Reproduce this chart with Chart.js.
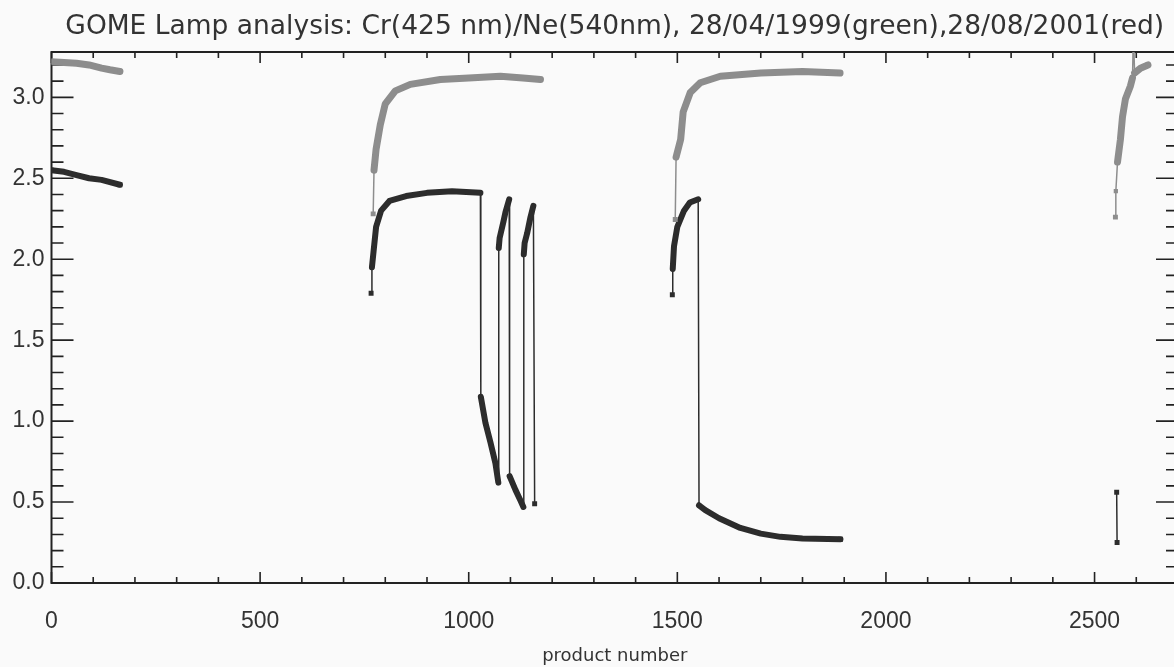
<!DOCTYPE html>
<html>
<head>
<meta charset="utf-8">
<script src="https://cdn.jsdelivr.net/npm/chart.js@4.4.1/dist/chart.umd.min.js"></script>
<style>
    html, body { margin: 0; padding: 0; background: #fafafa; overflow: hidden; }
    #moldura { width: 1182px; height: 667px; }
</style>
</head>
<body>
<div id="moldura"><canvas id="graficoLampada" width="1182" height="667"></canvas></div>
<script>
const titulo = 'GOME Lamp analysis: Cr(425 nm)/Ne(540nm), 28/04/1999(green),28/08/2001(red)';

// 28/04/1999 (curva cinza clara) - null separa os trechos
const produtoVerde = [0, 30, 60, 90, 120, 140, 164,
    400,
    771, 773, 778, 788, 800, 824, 860, 932, 1000, 1076, 1130, 1172,
    1300,
    1495, 1497, 1508, 1514, 1531, 1555, 1603, 1700, 1800, 1890,
    2200,
    2550, 2551, 2555, 2562, 2567, 2574, 2586, 2591, 2593, 2596, 2610, 2628];
const razaoVerde = [3.22, 3.215, 3.21, 3.20, 3.18, 3.17, 3.16,
    null,
    2.28, 2.55, 2.68, 2.83, 2.96, 3.04, 3.08, 3.11, 3.12, 3.13, 3.12, 3.11,
    null,
    2.245, 2.63, 2.74, 2.91, 3.03, 3.09, 3.13, 3.15, 3.16, 3.15,
    null,
    2.26, 2.42, 2.60, 2.74, 2.88, 2.99, 3.07, 3.12, 3.40, 3.15, 3.18, 3.20];

// 28/08/2001 (curva escura)
const produtoVermelho = [0, 30, 60, 90, 120, 164,
    400,
    766, 768, 772, 778, 790, 810, 850, 900, 960, 1028,
    1029, 1040, 1052, 1064, 1071,
    1072, 1074, 1083, 1088, 1097,
    1098, 1112, 1124, 1131,
    1132, 1134, 1140, 1148, 1155,
    1158,
    1300,
    1488, 1489, 1492, 1500, 1516, 1530, 1550,
    1552, 1567, 1600, 1651, 1700, 1747, 1800, 1891,
    2200,
    2553, 2554];
const razaoVermelho = [2.55, 2.54, 2.52, 2.50, 2.49, 2.46,
    null,
    1.79, 1.95, 2.05, 2.20, 2.30, 2.36, 2.39, 2.41, 2.42, 2.41,
    1.15, 0.99, 0.87, 0.74, 0.62,
    2.07, 2.13, 2.23, 2.29, 2.37,
    0.66, 0.575, 0.51, 0.47,
    2.03, 2.10, 2.16, 2.26, 2.33,
    0.49,
    null,
    1.78, 1.94, 2.08, 2.20, 2.30, 2.35, 2.37,
    0.48, 0.45, 0.40, 0.34, 0.305, 0.285, 0.275, 0.27,
    null,
    0.56, 0.25];

const ticksX = [0, 500, 1000, 1500, 2000, 2500];
const ticksY = [0.0, 0.5, 1.0, 1.5, 2.0, 2.5, 3.0];

const corVerde = '#8d8d8d';
const corVermelho = '#2c2c2c';
const corTexto = '#333333';

function montaPontos(xs, ys) {
    return xs.map((x, i) => ({ x: x, y: ys[i] }));
}

// marcador quadrado no inicio/fim de cada trecho e depois de saltos
function raioMarcador(c) {
    const d = c.dataset.data;
    const i = c.dataIndex;
    if (d[i].y === null) return 0;
    const ant = i > 0 ? d[i - 1].y : null;
    const prox = i < d.length - 1 ? d[i + 1].y : null;
    if (ant === null || prox === null) return 3.5;
    if (Math.abs(d[i].y - ant) > 0.15) return 3;
    return 0;
}

// linha fina so nos saltos quase verticais, grossa nos trechos densos
function larguraTrecho(grossa) {
    return c => {
        const dy = Math.abs(c.p1.y - c.p0.y);
        const dx = Math.abs(c.p1.x - c.p0.x);
        return (dy > 25 && dx < 2) ? 1.5 : grossa;
    };
}

// caixa e marcas de escala no estilo IDL (para dentro)
const eixosIDL = {
    id: 'eixosIDL',
    beforeDraw(chart) {
        const ctx = chart.ctx;
        ctx.save();
        ctx.fillStyle = '#fafafa';
        ctx.fillRect(0, 0, chart.width, chart.height);
        ctx.restore();
    },
    beforeDatasetsDraw(chart) {
        const { ctx, chartArea: a, scales: { x, y } } = chart;
        ctx.save();
        ctx.strokeStyle = '#222';
        ctx.lineWidth = 2;
        ctx.strokeRect(a.left, a.top, a.right - a.left, a.bottom - a.top);
        ctx.lineWidth = 1.6;
        ctx.beginPath();
        for (let v = 0; v <= x.max; v += 100) {
            const px = x.getPixelForValue(v);
            const len = v % 500 === 0 ? 11 : 6;
            ctx.moveTo(px, a.bottom); ctx.lineTo(px, a.bottom - len);
            ctx.moveTo(px, a.top); ctx.lineTo(px, a.top + len);
        }
        for (let i = 0; i / 10 <= y.max; i++) {
            const py = y.getPixelForValue(i / 10);
            const len = i % 5 === 0 ? 22 : 12;
            ctx.moveTo(a.left, py); ctx.lineTo(a.left + len, py);
            ctx.moveTo(a.right, py); ctx.lineTo(a.right - len, py);
        }
        ctx.stroke();
        ctx.restore();
    }
};

const ctx = document.getElementById('graficoLampada').getContext('2d');

new Chart(ctx, {
    type: 'line',
    data: {
        datasets: [{
            label: '28/04/1999',
            data: montaPontos(produtoVerde, razaoVerde),
            borderColor: corVerde,
            backgroundColor: corVerde,
            borderWidth: 7,
            borderJoinStyle: 'round',
            borderCapStyle: 'round',
            pointStyle: 'rect',
            pointRadius: raioMarcador,
            pointBorderWidth: 0,
            spanGaps: false,
            tension: 0,
            segment: { borderWidth: larguraTrecho(7) }
        }, {
            label: '28/08/2001',
            data: montaPontos(produtoVermelho, razaoVermelho),
            borderColor: corVermelho,
            backgroundColor: corVermelho,
            borderWidth: 6,
            borderJoinStyle: 'round',
            borderCapStyle: 'round',
            pointStyle: 'rect',
            pointRadius: raioMarcador,
            pointBorderWidth: 0,
            spanGaps: false,
            tension: 0,
            segment: { borderWidth: larguraTrecho(6) }
        }]
    },
    options: {
        responsive: false,
        animation: false,
        layout: { padding: { left: 0, right: 2, top: 0, bottom: 0 } },
        plugins: {
            legend: { display: false },
            tooltip: { enabled: false },
            title: {
                display: true,
                text: titulo,
                fullSize: false,
                color: corTexto,
                font: { family: 'DejaVu Sans', size: 26.5, weight: 'normal' },
                padding: { top: 11.6, bottom: 8.6 }
            }
        },
        scales: {
            x: {
                type: 'linear',
                min: 0,
                max: 2700,
                grid: { display: false, drawTicks: false },
                border: { display: false },
                afterBuildTicks: s => { s.ticks = ticksX.map(v => ({ value: v })); },
                afterFit: s => { s.height = 84; },
                ticks: {
                    autoSkip: false,
                    maxRotation: 0,
                    padding: 25,
                    color: corTexto,
                    font: { family: 'Liberation Sans', size: 23 },
                    callback: v => String(v)
                },
                title: {
                    display: true,
                    text: 'product number',
                    color: corTexto,
                    font: { family: 'DejaVu Sans', size: 18 },
                    padding: { top: 0, bottom: 0 }
                }
            },
            y: {
                min: 0,
                max: 3.28,
                grid: { display: false, drawTicks: false },
                border: { display: false },
                afterBuildTicks: s => { s.ticks = ticksY.map(v => ({ value: v })); },
                afterFit: s => { s.width = 51.5; },
                ticks: {
                    autoSkip: false,
                    padding: 7,
                    color: corTexto,
                    font: { family: 'Liberation Sans', size: 23 },
                    callback: v => v.toFixed(1)
                }
            }
        }
    },
    plugins: [eixosIDL]
});
</script>
</body>
</html>
